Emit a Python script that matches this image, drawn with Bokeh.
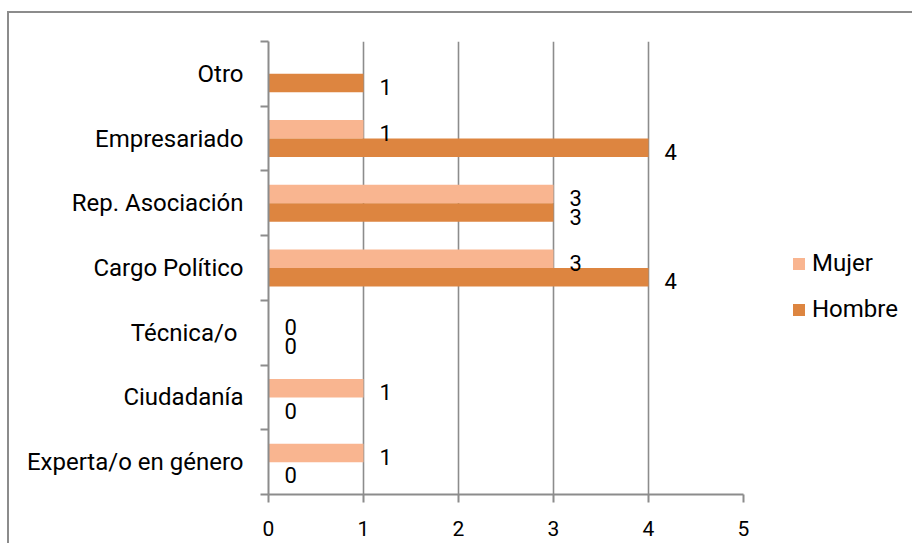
from bokeh.plotting import figure
from bokeh.models import (ColumnDataSource, Range1d, FixedTicker, Legend, LegendItem)
from bokeh.transform import dodge
from bokeh.core.properties import value
from bokeh.embed import file_html
from bokeh.resources import INLINE

categories = ["Experta/o en género", "Ciudadanía", "Técnica/o ", "Cargo Político",
              "Rep. Asociación", "Empresariado", "Otro"]
mujer = [1, 1, 0, 3, 3, 1, None]
hombre = [0, 0, 0, 4, 3, 4, 1]
x_ticks = [0, 1, 2, 3, 4, 5]
series_names = ["Mujer", "Hombre"]
colors = ["#F9B590", "#DD8540"]

FONT = "Roboto"
GRAY = "#8c8c8c"
BAR_H = 0.286
OFF = BAR_H / 2

centers = [i + 0.5 for i in range(len(categories))]

p = figure(frame_width=475, frame_height=453, output_backend="svg", toolbar_location=None,
           x_range=Range1d(0, 5), y_range=Range1d(0, len(categories)),
           min_border_left=259, min_border_right=160, min_border_top=28, min_border_bottom=49)
p.styles = {"margin-top": "11px", "margin-left": "7px",
            "border-top": "2px solid #8c8c8c", "border-left": "2px solid #8c8c8c"}
p.outline_line_color = None
p.background_fill_color = "white"
p.border_fill_color = "white"

def src(vals):
    xs, ys, ts = [], [], []
    for c, v in zip(centers, vals):
        if v is None:
            continue
        xs.append(v); ys.append(c); ts.append(str(v))
    return ColumnDataSource(dict(x=xs, y=ys, t=ts))

s_m = src(mujer)
s_h = src(hombre)

r_m = p.hbar(y=dodge("y", OFF, range=p.y_range), right="x", left=0, height=BAR_H,
             source=s_m, fill_color=colors[0], line_color=None)
r_h = p.hbar(y=dodge("y", -OFF, range=p.y_range), right="x", left=0, height=BAR_H,
             source=s_h, fill_color=colors[1], line_color=None)

for s, o in ((s_m, OFF), (s_h, -OFF)):
    p.text(x="x", y=dodge("y", o, range=p.y_range), text="t", source=s,
           x_offset=16, y_offset=4, text_align="left", text_baseline="middle",
           text_font=value(FONT), text_font_size="22px", text_color="black")

# x axis
xa = p.xaxis[0]
xa.ticker = FixedTicker(ticks=x_ticks)
xa.axis_line_color = GRAY
xa.axis_line_width = 2
xa.major_tick_line_color = GRAY
xa.major_tick_line_width = 2
xa.major_tick_in = 0
xa.major_tick_out = 8
xa.minor_tick_line_color = None
xa.major_label_standoff = 18
xa.major_label_text_font = FONT
xa.major_label_text_font_size = "21px"
xa.major_label_text_color = "black"

# y axis
ya = p.yaxis[0]
ya.ticker = FixedTicker(ticks=centers, minor_ticks=list(range(len(categories) + 1)))
ya.major_label_overrides = {c: n for c, n in zip(centers, categories)}
ya.axis_line_color = GRAY
ya.axis_line_width = 2
ya.major_tick_line_color = None
ya.major_tick_in = 0
ya.major_tick_out = 8
ya.minor_tick_line_color = GRAY
ya.minor_tick_line_width = 2
ya.minor_tick_in = 0
ya.minor_tick_out = 8
ya.major_label_standoff = 17
ya.major_label_text_font = FONT
ya.major_label_text_font_size = "24px"
ya.major_label_text_color = "black"

p.xgrid.ticker = FixedTicker(ticks=x_ticks)
p.xgrid.grid_line_color = GRAY
p.xgrid.grid_line_width = 1.6
p.ygrid.grid_line_color = None

legend = Legend(items=[LegendItem(label=series_names[0], renderers=[r_m]),
                       LegendItem(label=series_names[1], renderers=[r_h])],
                location=(48, 171), orientation="vertical",
                glyph_width=15, glyph_height=15, label_standoff=6, spacing=18,
                padding=0, margin=0, border_line_color=None, background_fill_alpha=0,
                label_text_font=FONT, label_text_font_size="24px",
                label_text_color="black")
p.add_layout(legend, "right")

open("out.html", "w").write(file_html(p, INLINE))
